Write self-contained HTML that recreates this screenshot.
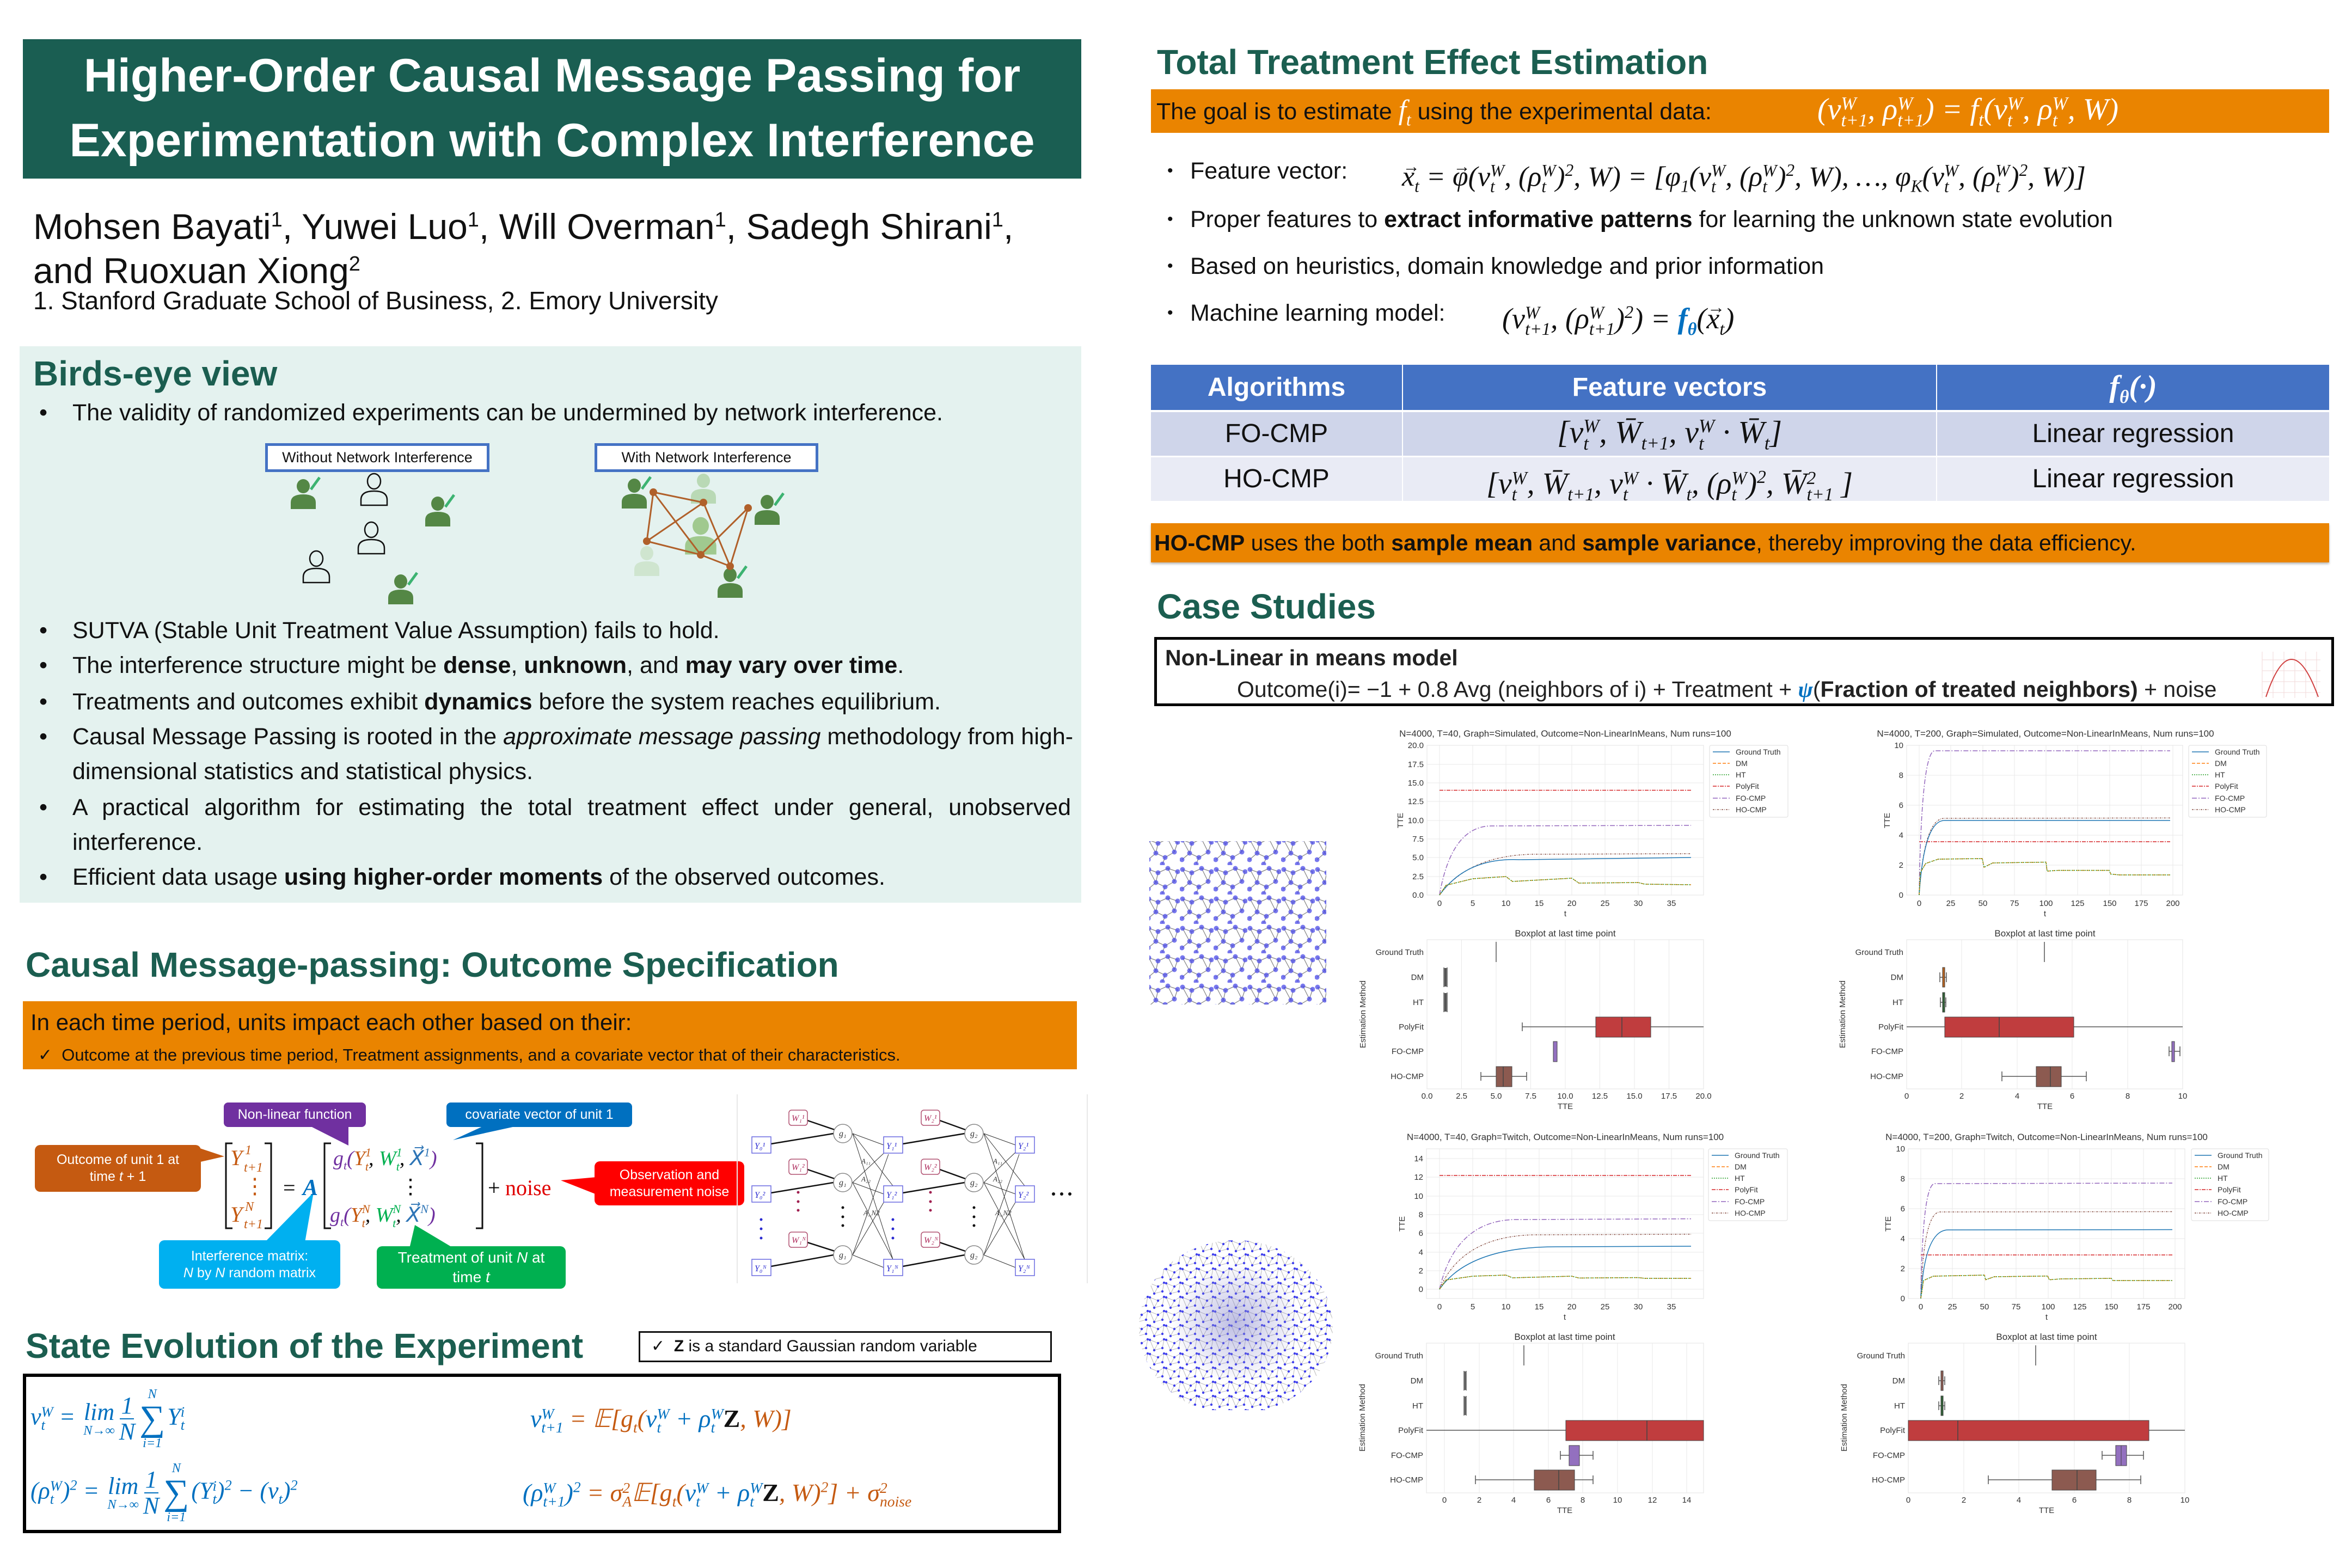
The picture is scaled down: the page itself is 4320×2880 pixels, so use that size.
<!DOCTYPE html>
<html><head><meta charset="utf-8">
<style>
body{margin:0;width:4320px;height:2880px;position:relative;background:#fff;font-family:"Liberation Sans",sans-serif;color:#111;overflow:hidden}
.a{position:absolute;white-space:nowrap}
.m{font-family:"Liberation Serif","DejaVu Serif",serif;font-style:italic}
.ss{display:inline-block;vertical-align:-0.38em;line-height:0.92;font-size:0.6em;text-align:left;font-style:italic}
.ss>b{display:block;font-weight:normal}
.h{font-weight:bold;color:#1b5e50;font-size:64px;line-height:76px}
.bl{font-size:43px;line-height:60px}
.rb{font-size:43px;line-height:60px}
.st{display:inline-flex;flex-direction:column;align-items:center;line-height:1;vertical-align:middle;margin:0 4px}
.st small{font-size:.55em}
.fr{display:inline-flex;flex-direction:column;align-items:center;line-height:1.05;vertical-align:middle;margin:0 4px}
.fr span:first-child{border-bottom:2px solid currentColor;padding:0 2px}
.cal{position:absolute;color:#fff;font-size:25px;line-height:31px;text-align:center;border-radius:10px;display:flex;align-items:center;justify-content:center}
.vec{position:relative;display:inline-block}
.vec::before{content:"→";position:absolute;top:-0.62em;left:0.05em;font-size:.6em;font-style:normal}
</style></head><body>

<!-- Title -->
<div class="a" style="left:42px;top:72px;width:1944px;height:256px;background:#1a5e52;color:#fff;font-weight:bold;font-size:86px;line-height:119px;text-align:center;padding-top:8px;box-sizing:border-box">Higher-Order Causal Message Passing for<br>Experimentation with Complex Interference</div>

<div class="a" style="left:61px;top:362px;font-size:66px;line-height:84px">Mohsen Bayati<sup style="font-size:38px">1</sup>, Yuwei Luo<sup style="font-size:38px">1</sup>, Will Overman<sup style="font-size:38px">1</sup>, Sadegh Shirani<sup style="font-size:38px">1</sup>,</div>
<div class="a" style="left:61px;top:443px;font-size:66px;line-height:84px">and Ruoxuan Xiong<sup style="font-size:38px">2</sup></div>
<div class="a" style="left:61px;top:524px;font-size:46px;line-height:56px">1. Stanford Graduate School of Business, 2. Emory University</div>

<!-- Birds-eye -->
<div class="a" style="left:36px;top:636px;width:1950px;height:1022px;background:#e4f2ef"></div>
<div class="a h" style="left:61px;top:648px">Birds-eye view</div>
<div class="a bl" style="left:72px;top:728px">•</div><div class="a bl" style="left:133px;top:728px">The validity of randomized experiments can be undermined by network interference.</div>
<div class="a bl" style="left:72px;top:1128px">•</div><div class="a bl" style="left:133px;top:1128px">SUTVA (Stable Unit Treatment Value Assumption) fails to hold.</div>
<div class="a bl" style="left:72px;top:1192px">•</div><div class="a bl" style="left:133px;top:1192px">The interference structure might be <b>dense</b>, <b>unknown</b>, and <b>may vary over time</b>.</div>
<div class="a bl" style="left:72px;top:1259px">•</div><div class="a bl" style="left:133px;top:1259px">Treatments and outcomes exhibit <b>dynamics</b> before the system reaches equilibrium.</div>
<div class="a bl" style="left:72px;top:1323px">•</div><div class="a bl" style="left:133px;top:1323px">Causal Message Passing is rooted in the <i>approximate message passing</i> methodology from high-</div>
<div class="a bl" style="left:133px;top:1387px">dimensional statistics and statistical physics.</div>
<div class="a bl" style="left:72px;top:1453px">•</div><div class="a bl" style="left:133px;top:1453px;width:1834px;white-space:normal;text-align:justify;text-align-last:justify">A practical algorithm for estimating the total treatment effect under general, unobserved</div>
<div class="a bl" style="left:133px;top:1517px">interference.</div>
<div class="a bl" style="left:72px;top:1581px">•</div><div class="a bl" style="left:133px;top:1581px">Efficient data usage <b>using higher-order moments</b> of the observed outcomes.</div>

<div class="a" style="left:487px;top:814px;width:412px;height:53px;border:5px solid #4472c4;box-sizing:border-box;background:#fff;font-size:27px;line-height:43px;text-align:center">Without Network Interference</div>
<div class="a" style="left:1092px;top:814px;width:411px;height:53px;border:5px solid #4472c4;box-sizing:border-box;background:#fff;font-size:27px;line-height:43px;text-align:center">With Network Interference</div>

<svg class="a" style="left:0;top:0" width="2000" height="1200">
<defs>
<g id="pf"><ellipse cx="0" cy="0" rx="12" ry="13"/><path d="M-23,42 L-23,30 Q-23,15 0,15 Q23,15 23,30 L23,42 Z"/></g>
<g id="po" fill="none" stroke="#111" stroke-width="2.5"><ellipse cx="0" cy="0" rx="12" ry="14"/><path d="M-24,44 L-24,34 Q-24,18 0,18 Q24,18 24,34 L24,44 Z"/></g>
<path id="sy" d="M14,6 L30,-16" stroke="#3cb371" stroke-width="5"/>
</defs>
<g fill="#548745">
<use href="#pf" x="557" y="893"/><use href="#sy" x="557" y="893"/>
<use href="#pf" x="804" y="925"/><use href="#sy" x="804" y="925"/>
<use href="#pf" x="736" y="1068"/><use href="#sy" x="736" y="1068"/>
<use href="#pf" x="1165" y="892"/><use href="#sy" x="1165" y="892"/>
<use href="#pf" x="1409" y="922"/><use href="#sy" x="1409" y="922"/>
<use href="#pf" x="1341" y="1056"/><use href="#sy" x="1341" y="1056"/>
</g>
<use href="#po" x="687" y="884"/><use href="#po" x="682" y="973"/><use href="#po" x="581" y="1026"/>
<use href="#pf" x="1292" y="883" fill="#b9d9b5"/>
<g fill="#a0c98f" transform="translate(1287,966) scale(1.25)"><use href="#pf"/></g>
<use href="#pf" x="1188" y="1016" fill="#cfe5cf"/>
<g stroke="#b0602a" stroke-width="3" fill="none">
<path d="M1200,904L1292,923M1200,904L1188,994M1200,904L1287,1019M1292,923L1188,994M1292,923L1341,1040M1374,933L1287,1019M1374,933L1341,1040M1188,994L1287,1019M1287,1019L1341,1040"/>
</g>
<g fill="#b0602a"><circle cx="1200" cy="904" r="7"/><circle cx="1292" cy="923" r="7"/><circle cx="1374" cy="933" r="7"/><circle cx="1188" cy="994" r="7"/><circle cx="1287" cy="1019" r="7"/><circle cx="1341" cy="1040" r="7"/></g>
</svg>

<!-- Causal message passing -->
<div class="a h" style="left:47px;top:1734px">Causal Message-passing: Outcome Specification</div>
<div class="a" style="left:42px;top:1839px;width:1936px;height:125px;background:#ea8400"></div>
<div class="a" style="left:56px;top:1852px;font-size:42px;line-height:52px">In each time period, units impact each other based on their:</div>
<div class="a" style="left:70px;top:1919px;font-size:31px;line-height:38px">✓ &nbsp;Outcome at the previous time period, Treatment assignments, and a covariate vector that of their characteristics.</div>

<svg class="a" style="left:0;top:1990px" width="2030" height="400" font-family="Liberation Serif" font-style="italic">
<g transform="translate(0,-1990)">
<g fill="#c55a11"><rect x="64" y="2103" width="305" height="86" rx="10"/><polygon points="355,2105 355,2137 412,2124"/></g>
<g fill="#7030a0"><rect x="411" y="2025" width="261" height="45" rx="8"/><polygon points="565,2066 640,2066 640,2104"/></g>
<g fill="#0070c0"><rect x="820" y="2025" width="341" height="45" rx="8"/><polygon points="893,2066 960,2066 832,2094"/></g>
<g fill="#ff0000"><rect x="1092" y="2133" width="275" height="81" rx="10"/><polygon points="1096,2162 1096,2194 1030,2168"/></g>
<g fill="#00b0f0"><rect x="292" y="2278" width="333" height="89" rx="10"/><polygon points="486,2282 560,2282 576,2190"/></g>
<g fill="#00b050"><rect x="692" y="2289" width="347" height="78" rx="10"/><polygon points="752,2293 834,2293 762,2250"/></g>
<g stroke="#111" stroke-width="3" fill="none" font-style="normal">
<path d="M427,2100H415V2256H427M486,2100H498V2256H486M608,2100H596V2256H608M874,2100H886V2256H874"/>
</g>
<g font-size="40" fill="#c55a11">
<text x="423" y="2140">Y</text><text x="450" y="2120" font-size="24">1</text><text x="448" y="2152" font-size="24">t+1</text>
<text x="448" y="2192" font-style="normal">⋮</text>
<text x="423" y="2244">Y</text><text x="450" y="2224" font-size="24">N</text><text x="448" y="2256" font-size="24">t+1</text>
</g>
<text x="520" y="2195" font-size="40" font-style="normal">=</text>
<text x="556" y="2195" font-size="42" fill="#0070c0" font-weight="bold">A</text>
<g font-size="38">
<text x="612" y="2140"><tspan fill="#7030a0">g</tspan><tspan fill="#7030a0" font-size="22" dy="8">t</tspan><tspan fill="#7030a0" dy="-8">(</tspan><tspan fill="#c55a11">Y</tspan><tspan fill="#c55a11" font-size="22" dy="-16">1</tspan><tspan fill="#c55a11" font-size="22" dx="-11" dy="26">t</tspan><tspan dy="-10">, </tspan><tspan fill="#00b050">W</tspan><tspan fill="#00b050" font-size="22" dy="-16">1</tspan><tspan fill="#00b050" font-size="22" dx="-11" dy="26">t</tspan><tspan dy="-10">, </tspan><tspan fill="#2e75b6">X⃗</tspan><tspan fill="#2e75b6" font-size="22" dy="-16">1</tspan><tspan fill="#7030a0" dy="16">)</tspan></text>
<text x="735" y="2192" font-style="normal">⋮</text>
<text x="606" y="2244"><tspan fill="#7030a0">g</tspan><tspan fill="#7030a0" font-size="22" dy="8">t</tspan><tspan fill="#7030a0" dy="-8">(</tspan><tspan fill="#c55a11">Y</tspan><tspan fill="#c55a11" font-size="22" dy="-16">N</tspan><tspan fill="#c55a11" font-size="22" dx="-15" dy="26">t</tspan><tspan dy="-10">, </tspan><tspan fill="#00b050">W</tspan><tspan fill="#00b050" font-size="22" dy="-16">N</tspan><tspan fill="#00b050" font-size="22" dx="-15" dy="26">t</tspan><tspan dy="-10">, </tspan><tspan fill="#2e75b6">X⃗</tspan><tspan fill="#2e75b6" font-size="22" dy="-16">N</tspan><tspan fill="#7030a0" dy="16">)</tspan></text>
</g>
<text x="896" y="2195" font-size="40" font-style="normal">+</text><text x="928" y="2195" font-size="40" font-style="normal" fill="#e00000">noise</text>
<!-- network -->
<path d="M1354,2010V2357M1997,2010V2357" stroke="#e8e8e8" stroke-width="2"/>
<g stroke="#333" stroke-width="1" fill="none">
<path d="M1566,2082L1623,2103M1566,2082L1640,2178M1566,2082L1640,2313M1566,2172L1632,2110M1566,2172L1623,2193M1566,2172L1640,2313M1566,2305L1632,2120M1566,2305L1640,2180M1566,2305L1623,2328"/>
<path d="M1807,2082L1865,2103M1807,2082L1882,2178M1807,2082L1882,2313M1807,2172L1872,2110M1807,2172L1865,2193M1807,2172L1882,2313M1807,2305L1872,2120M1807,2305L1882,2180M1807,2305L1865,2328"/>
</g>
<g stroke="#111" stroke-width="2.5" fill="none">
<path d="M1416,2101L1531,2082M1416,2191L1531,2172M1416,2326L1531,2305M1483,2058L1533,2075M1483,2148L1533,2165M1483,2282L1533,2298M1658,2101L1772,2082M1658,2191L1772,2172M1658,2326L1772,2305M1726,2058L1773,2075M1726,2148L1773,2165M1726,2282L1773,2298"/>
</g>
<g fill="#fff" stroke="#888" stroke-width="1.5"><circle cx="1548" cy="2082" r="17"/><circle cx="1548" cy="2172" r="17"/><circle cx="1548" cy="2305" r="17"/><circle cx="1789" cy="2082" r="17"/><circle cx="1789" cy="2172" r="17"/><circle cx="1789" cy="2305" r="17"/></g>
<g fill="#fff" stroke="#b05070" stroke-width="1.5"><rect x="1449" y="2039" width="34" height="28" rx="5"/><rect x="1449" y="2129" width="34" height="28" rx="5"/><rect x="1449" y="2263" width="34" height="28" rx="5"/><rect x="1692" y="2039" width="34" height="28" rx="5"/><rect x="1692" y="2129" width="34" height="28" rx="5"/><rect x="1692" y="2263" width="34" height="28" rx="5"/></g>
<g fill="#fff" stroke="#6a6ae0" stroke-width="1.5"><rect x="1381" y="2088" width="35" height="30"/><rect x="1381" y="2178" width="35" height="30"/><rect x="1381" y="2313" width="35" height="30"/><rect x="1623" y="2088" width="35" height="30"/><rect x="1623" y="2178" width="35" height="30"/><rect x="1623" y="2313" width="35" height="30"/><rect x="1865" y="2088" width="35" height="30"/><rect x="1865" y="2178" width="35" height="30"/><rect x="1865" y="2313" width="35" height="30"/></g>
<g font-size="16" fill="#2a2ad0">
<text x="1386" y="2110">Y₀¹</text><text x="1386" y="2200">Y₀²</text><text x="1386" y="2335">Y₀ᴺ</text>
<text x="1628" y="2110">Y₁¹</text><text x="1628" y="2200">Y₁²</text><text x="1628" y="2335">Y₁ᴺ</text>
<text x="1870" y="2110">Y₂¹</text><text x="1870" y="2200">Y₂²</text><text x="1870" y="2335">Y₂ᴺ</text>
</g>
<g font-size="16" fill="#b03060">
<text x="1454" y="2059">W₁¹</text><text x="1454" y="2149">W₁²</text><text x="1454" y="2283">W₁ᴺ</text>
<text x="1697" y="2059">W₂¹</text><text x="1697" y="2149">W₂²</text><text x="1697" y="2283">W₂ᴺ</text>
</g>
<g font-size="16" fill="#333"><text x="1541" y="2087">g₁</text><text x="1541" y="2177">g₁</text><text x="1541" y="2310">g₁</text><text x="1782" y="2087">g₂</text><text x="1782" y="2177">g₂</text><text x="1782" y="2310">g₂</text>
<text x="1582" y="2137" font-size="13">A₁₁</text><text x="1582" y="2170" font-size="13">A₂₂</text><text x="1586" y="2232" font-size="13">A_N2</text>
<text x="1824" y="2137" font-size="13">A₁₁</text><text x="1824" y="2170" font-size="13">A₂₂</text><text x="1828" y="2232" font-size="13">A_N2</text></g>
<g fill="#2a2ad0"><circle cx="1398" cy="2240" r="2.5"/><circle cx="1398" cy="2257" r="2.5"/><circle cx="1398" cy="2274" r="2.5"/><circle cx="1640" cy="2240" r="2.5"/><circle cx="1640" cy="2257" r="2.5"/><circle cx="1640" cy="2274" r="2.5"/></g>
<g fill="#a02050"><circle cx="1466" cy="2190" r="2.5"/><circle cx="1466" cy="2207" r="2.5"/><circle cx="1466" cy="2223" r="2.5"/><circle cx="1709" cy="2190" r="2.5"/><circle cx="1709" cy="2207" r="2.5"/><circle cx="1709" cy="2223" r="2.5"/></g>
<g fill="#111"><circle cx="1548" cy="2218" r="2.5"/><circle cx="1548" cy="2235" r="2.5"/><circle cx="1548" cy="2251" r="2.5"/><circle cx="1789" cy="2218" r="2.5"/><circle cx="1789" cy="2235" r="2.5"/><circle cx="1789" cy="2251" r="2.5"/><circle cx="1935" cy="2193" r="3"/><circle cx="1950" cy="2193" r="3"/><circle cx="1965" cy="2193" r="3"/></g>
</g>
</svg>
<div class="cal" style="left:64px;top:2103px;width:305px;height:86px"><span>Outcome of unit 1 at<br>time <i>t</i> + 1</span></div>
<div class="cal" style="left:411px;top:2025px;width:261px;height:45px"><span>Non-linear function</span></div>
<div class="cal" style="left:820px;top:2025px;width:341px;height:45px"><span>covariate vector of unit 1</span></div>
<div class="cal" style="left:1092px;top:2133px;width:275px;height:81px"><span>Observation and<br>measurement noise</span></div>
<div class="cal" style="left:292px;top:2278px;width:333px;height:89px"><span>Interference matrix:<br><i>N</i> by <i>N</i> random matrix</span></div>
<div class="cal" style="left:692px;top:2289px;width:347px;height:78px;font-size:28px;line-height:36px"><span>Treatment of unit <i>N</i> at<br>time <i>t</i></span></div>

<!-- State evolution -->
<div class="a h" style="left:47px;top:2434px">State Evolution of the Experiment</div>
<div class="a" style="left:1173px;top:2445px;width:759px;height:57px;border:3px solid #111;box-sizing:border-box;font-size:30px;line-height:50px;padding-left:20px">✓ &nbsp;<b>Z</b> is a standard Gaussian random variable</div>
<div class="a" style="left:42px;top:2523px;width:1907px;height:293px;border:6px solid #000;box-sizing:border-box"></div>

<div class="a m" style="left:56px;top:2546px;height:120px;display:flex;align-items:center;color:#0070c0;font-size:44px"><span>ν<span class="ss"><b>W</b><b>t</b></span>&nbsp;= <span class="st"><span>lim</span><small>N→∞</small></span><span class="fr"><span>1</span><span>N</span></span><span class="st"><small>N</small><span style="font-size:1.5em;font-style:normal">∑</span><small>i=1</small></span>Y<span class="ss"><b>i</b><b>t</b></span></span></div>
<div class="a m" style="left:974px;top:2576px;height:60px;display:flex;align-items:center;color:#c55a11;font-size:46px"><span><span style="color:#0070c0">ν<span class="ss"><b>W</b><b>t+1</b></span></span>&nbsp;= 𝔼[g<span class="ss"><b>&nbsp;</b><b>t</b></span>(<span style="color:#0070c0">ν<span class="ss"><b>W</b><b>t</b></span>&nbsp;+ ρ<span class="ss"><b>W</b><b>t</b></span></span><b style="color:#111;font-style:normal">Z</b>, W)]</span></div>

<div class="a m" style="left:56px;top:2682px;height:120px;display:flex;align-items:center;color:#0070c0;font-size:44px"><span>(ρ<span class="ss"><b>W</b><b>t</b></span>)<sup style="font-size:.6em">2</sup>&nbsp;= <span class="st"><span>lim</span><small>N→∞</small></span><span class="fr"><span>1</span><span>N</span></span><span class="st"><small>N</small><span style="font-size:1.5em;font-style:normal">∑</span><small>i=1</small></span>(Y<span class="ss"><b>i</b><b>t</b></span>)<sup style="font-size:.6em">2</sup>&nbsp;− (ν<sub style="font-size:.6em">t</sub>)<sup style="font-size:.6em">2</sup></span></div>
<div class="a m" style="left:960px;top:2712px;height:60px;display:flex;align-items:center;color:#c55a11;font-size:46px"><span><span style="color:#0070c0">(ρ<span class="ss"><b>W</b><b>t+1</b></span>)<sup style="font-size:.6em">2</sup></span>&nbsp;= σ<span class="ss"><b>2</b><b>A</b></span>𝔼[g<span class="ss"><b>&nbsp;</b><b>t</b></span>(<span style="color:#0070c0">ν<span class="ss"><b>W</b><b>t</b></span>&nbsp;+ ρ<span class="ss"><b>W</b><b>t</b></span></span><b style="color:#111;font-style:normal">Z</b>, W)<sup style="font-size:.6em">2</sup>] + σ<span class="ss"><b>2</b><b>noise</b></span></span></div>

<!-- Right column -->
<div class="a h" style="left:2125px;top:76px">Total Treatment Effect Estimation</div>
<div class="a" style="left:2114px;top:164px;width:2164px;height:80px;background:#ea8400"></div>
<div class="a" style="left:2124px;top:176px;font-size:43px;line-height:54px">The goal is to estimate <span class="m" style="color:#fff;font-size:52px">f<sub style="font-size:.6em">t</sub></span> using the experimental data:</div>
<div class="a m" style="left:3338px;top:166px;font-size:56px;line-height:70px;color:#fff">(ν<span class="ss"><b>W</b><b>t+1</b></span>, ρ<span class="ss"><b>W</b><b>t+1</b></span>) = f<sub style="font-size:.6em">t</sub>(ν<span class="ss"><b>W</b><b>t</b></span>, ρ<span class="ss"><b>W</b><b>t</b></span>, W)</div>

<div class="a rb" style="left:2144px;top:284px;font-size:30px">•</div><div class="a rb" style="left:2186px;top:284px">Feature vector:</div>
<div class="a m" style="left:2575px;top:278px;font-size:52px;line-height:70px"><span class="vec">x</span><sub style="font-size:.6em">t</sub> = <span class="vec">φ</span>(ν<span class="ss"><b>W</b><b>t</b></span>, (ρ<span class="ss"><b>W</b><b>t</b></span>)<sup style="font-size:.6em">2</sup>, W) = [φ<sub style="font-size:.6em">1</sub>(ν<span class="ss"><b>W</b><b>t</b></span>, (ρ<span class="ss"><b>W</b><b>t</b></span>)<sup style="font-size:.6em">2</sup>, W), …, φ<sub style="font-size:.6em">K</sub>(ν<span class="ss"><b>W</b><b>t</b></span>, (ρ<span class="ss"><b>W</b><b>t</b></span>)<sup style="font-size:.6em">2</sup>, W)]</div>
<div class="a rb" style="left:2144px;top:373px;font-size:30px">•</div><div class="a rb" style="left:2186px;top:373px">Proper features to <b>extract informative patterns</b> for learning the unknown state evolution</div>
<div class="a rb" style="left:2144px;top:459px;font-size:30px">•</div><div class="a rb" style="left:2186px;top:459px">Based on heuristics, domain knowledge and prior information</div>
<div class="a rb" style="left:2144px;top:545px;font-size:30px">•</div><div class="a rb" style="left:2186px;top:545px">Machine learning model:</div>
<div class="a m" style="left:2759px;top:538px;font-size:54px;line-height:72px">(ν<span class="ss"><b>W</b><b>t+1</b></span>, (ρ<span class="ss"><b>W</b><b>t+1</b></span>)<sup style="font-size:.6em">2</sup>) = <span style="color:#0070c0;font-weight:bold">f<sub style="font-size:.6em">θ</sub></span>(<span class="vec">x</span><sub style="font-size:.6em">t</sub>)</div>

<!-- table -->
<div class="a" style="left:2114px;top:670px;width:461px;height:83px;background:#4472c4"></div>
<div class="a" style="left:2577px;top:670px;width:979px;height:83px;background:#4472c4"></div>
<div class="a" style="left:3558px;top:670px;width:720px;height:83px;background:#4472c4"></div>
<div class="a" style="left:2114px;top:757px;width:461px;height:80px;background:#cfd5ea"></div>
<div class="a" style="left:2577px;top:757px;width:979px;height:80px;background:#cfd5ea"></div>
<div class="a" style="left:3558px;top:757px;width:720px;height:80px;background:#cfd5ea"></div>
<div class="a" style="left:2114px;top:840px;width:461px;height:80px;background:#e9ebf5"></div>
<div class="a" style="left:2577px;top:840px;width:979px;height:80px;background:#e9ebf5"></div>
<div class="a" style="left:3558px;top:840px;width:720px;height:80px;background:#e9ebf5"></div>
<div class="a" style="left:2114px;top:682px;width:461px;text-align:center;color:#fff;font-weight:bold;font-size:48px;line-height:60px">Algorithms</div>
<div class="a" style="left:2577px;top:682px;width:979px;text-align:center;color:#fff;font-weight:bold;font-size:48px;line-height:60px">Feature vectors</div>
<div class="a m" style="left:3558px;top:678px;width:720px;text-align:center;color:#fff;font-weight:bold;font-size:56px;line-height:64px">f<sub style="font-size:.6em">θ</sub>(·)</div>
<div class="a" style="left:2114px;top:767px;width:461px;text-align:center;font-size:48px;line-height:60px">FO-CMP</div>
<div class="a" style="left:2114px;top:850px;width:461px;text-align:center;font-size:48px;line-height:60px">HO-CMP</div>
<div class="a" style="left:3558px;top:767px;width:720px;text-align:center;font-size:48px;line-height:60px">Linear regression</div>
<div class="a" style="left:3558px;top:850px;width:720px;text-align:center;font-size:48px;line-height:60px">Linear regression</div>
<div class="a m" style="left:2577px;top:758px;width:979px;text-align:center;font-size:58px;line-height:72px">[ν<span class="ss"><b>W</b><b>t</b></span>, W̄<sub style="font-size:.6em">t+1</sub>, ν<span class="ss"><b>W</b><b>t</b></span> · W̄<sub style="font-size:.6em">t</sub>]</div>
<div class="a m" style="left:2577px;top:841px;width:979px;text-align:center;font-size:56px;line-height:72px">[ν<span class="ss"><b>W</b><b>t</b></span>, W̄<sub style="font-size:.6em">t+1</sub>, ν<span class="ss"><b>W</b><b>t</b></span> · W̄<sub style="font-size:.6em">t</sub>, (ρ<span class="ss"><b>W</b><b>t</b></span>)<sup style="font-size:.6em">2</sup>, W̄<span class="ss"><b>2</b><b>t+1</b></span> ]</div>

<div class="a" style="left:2114px;top:961px;width:2164px;height:72px;background:#ea8400;box-shadow:0 3px 4px #bbb"></div>
<div class="a" style="left:2120px;top:971px;font-size:41px;line-height:52px"><b>HO-CMP</b> uses the both <b>sample mean</b> and <b>sample variance</b>, thereby improving the data efficiency.</div>

<div class="a h" style="left:2125px;top:1076px">Case Studies</div>
<div class="a" style="left:2120px;top:1170px;width:2167px;height:127px;border:5px solid #000;box-sizing:border-box"></div>
<div class="a" style="left:2140px;top:1183px;font-size:41px;line-height:50px;font-weight:bold;color:#222">Non-Linear in means model</div>
<div class="a" style="left:2272px;top:1241px;font-size:41px;line-height:50px;color:#222">Outcome(i)= −1 + 0.8 Avg (neighbors of i) + Treatment + <span class="m" style="color:#0070c0;font-weight:bold">ψ</span>(<b>Fraction of treated neighbors)</b> + noise</div>
<svg class="a" style="left:4150px;top:1192px" width="118" height="94">
<path d="M5,5V90M25,5V90M45,5V90M65,5V90M85,5V90M105,5V90M5,20H112M5,40H112M5,60H112M5,80H112" stroke="#f0dada" stroke-width="1"/>
<path d="M12,88 Q58,-50 108,88" stroke="#d04040" fill="none" stroke-width="2"/>
</svg>

<!-- networks -->
<svg class="a" style="left:2105px;top:1535px" width="350" height="320">
<defs><pattern id="net" width="62" height="54" patternUnits="userSpaceOnUse">
<g stroke="#888" stroke-width="1.3" fill="none"><path d="M5,8L22,14L40,6L58,12M22,14L18,32L35,40L52,30L58,12M18,32L4,44M35,40L30,52M52,30L40,6M5,8L18,32"/></g>
<g fill="#4a4ae8" fill-opacity="0.75"><circle cx="5" cy="8" r="4.5"/><circle cx="22" cy="14" r="4.5"/><circle cx="40" cy="6" r="4.5"/><circle cx="58" cy="12" r="4.5"/><circle cx="18" cy="32" r="4.5"/><circle cx="35" cy="40" r="4.5"/><circle cx="52" cy="30" r="4.5"/><circle cx="4" cy="44" r="4.5"/><circle cx="30" cy="52" r="4.5"/></g>
</pattern></defs>
<rect x="6" y="10" width="325" height="300" fill="url(#net)"/>
</svg>
<svg class="a" style="left:2080px;top:2250px" width="380" height="340">
<defs><pattern id="net2" width="30" height="26" patternUnits="userSpaceOnUse">
<g stroke="#bbb" stroke-width="1" fill="none"><path d="M2,3L17,9L28,2M17,9L10,22L25,18L28,2M2,3L10,22"/></g>
<g fill="#4040ee"><circle cx="2" cy="3" r="2.2"/><circle cx="17" cy="9" r="2.2"/><circle cx="28" cy="2" r="2.2"/><circle cx="10" cy="22" r="2.2"/><circle cx="25" cy="18" r="2.2"/></g>
</pattern>
<radialGradient id="rg"><stop offset="0" stop-color="#8888cc" stop-opacity=".55"/><stop offset="1" stop-color="#8888cc" stop-opacity="0"/></radialGradient></defs>
<ellipse cx="190" cy="188" rx="178" ry="160" fill="url(#net2)"/>
<ellipse cx="190" cy="180" rx="120" ry="110" fill="url(#rg)"/>
</svg>

<!-- Panel TL -->
<svg class="a" style="left:2450px;top:1320px" width="900" height="780" font-family="Liberation Sans" font-size="15" fill="#333">
<text x="425" y="33" text-anchor="middle" font-size="17">N=4000, T=40, Graph=Simulated, Outcome=Non-LinearInMeans, Num runs=100</text>
<rect x="171" y="49" width="508" height="275" fill="#fff" stroke="#e3e3e3"/>
<path d="M194 49V324M255 49V324M316 49V324M377 49V324M437 49V324M498 49V324M559 49V324M620 49V324M171 290H679M171 255H679M171 221H679M171 187H679M171 152H679M171 118H679M171 84H679" stroke="#e8e8e8" fill="none"/>
<g text-anchor="end"><text x="165" y="329">0.0</text><text x="165" y="295">2.5</text><text x="165" y="260">5.0</text><text x="165" y="226">7.5</text><text x="165" y="192">10.0</text><text x="165" y="157">12.5</text><text x="165" y="123">15.0</text><text x="165" y="89">17.5</text><text x="165" y="54">20.0</text></g>
<g text-anchor="middle"><text x="194" y="344">0</text><text x="255" y="344">5</text><text x="316" y="344">10</text><text x="377" y="344">15</text><text x="437" y="344">20</text><text x="498" y="344">25</text><text x="559" y="344">30</text><text x="620" y="344">35</text><text x="425" y="363">t</text></g>
<text transform="translate(127,187) rotate(-90)" text-anchor="middle">TTE</text>
<g fill="none" stroke-width="1.5">
<path d="M194,131.5H656" stroke="#d62728" stroke-dasharray="7,2,2,2"/>
<path d="M194,324 Q216,196 291,197 L656,196" stroke="#9467bd" stroke-dasharray="9,3,2,3"/>
<path d="M194,324 Q249,248 377,249 L656,248" stroke="#8c564b" stroke-dasharray="3,2,1,2"/>
<path d="M194,324 Q243,255 340,259 L656,255" stroke="#1f77b4"/>
<path d="M194,324 L206,306 L255,294 L316,290 L328,299 L437,293 L450,302 L559,301 L571,304 L656,305" stroke="#ff7f0e" stroke-dasharray="6,3"/>
<path d="M194,324 L206,306 L255,294 L316,290 L328,299 L437,293 L450,302 L559,301 L571,304 L656,305" stroke="#2ca02c" stroke-dasharray="2,2"/>
</g>
<rect x="690" y="49" width="144" height="132" fill="#fff" stroke="#ddd" rx="3"/>
<g stroke-width="1.5"><path d="M696,61H727" stroke="#1f77b4"/><path d="M696,82H727" stroke="#ff7f0e" stroke-dasharray="6,3"/><path d="M696,103H727" stroke="#2ca02c" stroke-dasharray="2,2"/><path d="M696,124H727" stroke="#d62728" stroke-dasharray="7,2,2,2"/><path d="M696,146H727" stroke="#9467bd" stroke-dasharray="9,3,2,3"/><path d="M696,167H727" stroke="#8c564b" stroke-dasharray="3,2,1,2"/></g>
<g font-size="14"><text x="738" y="66">Ground Truth</text><text x="738" y="87">DM</text><text x="738" y="108">HT</text><text x="738" y="129">PolyFit</text><text x="738" y="151">FO-CMP</text><text x="738" y="172">HO-CMP</text></g>
<text x="425" y="400" text-anchor="middle" font-size="17">Boxplot at last time point</text>
<rect x="171" y="406" width="508" height="274" fill="#fff" stroke="#e3e3e3"/>
<path d="M234.5 406V680M298 406V680M361.5 406V680M425 406V680M488.5 406V680M552 406V680M615.5 406V680" stroke="#e8e8e8"/>
<g text-anchor="end"><text x="165" y="434">Ground Truth</text><text x="165" y="480">DM</text><text x="165" y="526">HT</text><text x="165" y="571">PolyFit</text><text x="165" y="616">FO-CMP</text><text x="165" y="662">HO-CMP</text></g>
<text transform="translate(58,543) rotate(-90)" text-anchor="middle">Estimation Method</text>
<g text-anchor="middle"><text x="171" y="698">0.0</text><text x="234.5" y="698">2.5</text><text x="298" y="698">5.0</text><text x="361.5" y="698">7.5</text><text x="425" y="698">10.0</text><text x="488.5" y="698">12.5</text><text x="552" y="698">15.0</text><text x="615.5" y="698">17.5</text><text x="679" y="698">20.0</text><text x="425" y="717">TTE</text></g>
<g stroke="#555" stroke-width="1.5"><path d="M298,410V447M202,457V493M208,457V493M202,503V539M208,503V539M346,566H481M582,566H679M346,558V574M400,566H403M410,566H415M270,657H298M327,657H354M270,649V665M354,649V665"/></g>
<rect x="203" y="458" width="4" height="34" fill="#555"/><rect x="203" y="504" width="4" height="34" fill="#555"/>
<rect x="481" y="548" width="101" height="37" fill="#c03d3e" stroke="#444"/><path d="M529,548V585" stroke="#444" stroke-width="1.5"/>
<rect x="403" y="593" width="7" height="37" fill="#9370bf" stroke="#444"/>
<rect x="298" y="639" width="29" height="37" fill="#8c5a50" stroke="#444"/><path d="M311,639V676" stroke="#444" stroke-width="1.5"/>
</svg>

<!-- Panel TR -->
<svg class="a" style="left:3339px;top:1320px" width="900" height="780" font-family="Liberation Sans" font-size="15" fill="#333">
<text x="418" y="33" text-anchor="middle" font-size="17">N=4000, T=200, Graph=Simulated, Outcome=Non-LinearInMeans, Num runs=100</text>
<rect x="163" y="49" width="507" height="275" fill="#fff" stroke="#e3e3e3"/>
<path d="M186 49V324M244 49V324M303 49V324M361 49V324M419 49V324M477 49V324M536 49V324M594 49V324M652 49V324M163 269H670M163 214H670M163 159H670M163 104H670" stroke="#e8e8e8" fill="none"/>
<g text-anchor="end"><text x="157" y="329">0</text><text x="157" y="274">2</text><text x="157" y="219">4</text><text x="157" y="164">6</text><text x="157" y="109">8</text><text x="157" y="54">10</text></g>
<g text-anchor="middle"><text x="186" y="344">0</text><text x="244" y="344">25</text><text x="303" y="344">50</text><text x="361" y="344">75</text><text x="419" y="344">100</text><text x="477" y="344">125</text><text x="536" y="344">150</text><text x="594" y="344">175</text><text x="652" y="344">200</text><text x="417" y="363">t</text></g>
<text transform="translate(132,187) rotate(-90)" text-anchor="middle">TTE</text>
<g fill="none" stroke-width="1.5">
<path d="M186,226H647" stroke="#d62728" stroke-dasharray="7,2,2,2"/>
<path d="M186,324 Q190,58 215,59 L647,59" stroke="#9467bd" stroke-dasharray="9,3,2,3"/>
<path d="M186,324 Q195,182 233,183 L647,182.4" stroke="#8c564b" stroke-dasharray="3,2,1,2"/>
<path d="M186,324 Q195,186 233,187 L647,187" stroke="#1f77b4"/>
<path d="M186,324 L188,283 L198,266 L221,258 L302,257 L305,273 L321,265 L419,263.5 L421,280 L442,278.6 L535,278.6 L538,285.5 L554,287 L647,287" stroke="#ff7f0e" stroke-dasharray="6,3"/>
<path d="M186,324 L188,283 L198,266 L221,258 L302,257 L305,273 L321,265 L419,263.5 L421,280 L442,278.6 L535,278.6 L538,285.5 L554,287 L647,287" stroke="#2ca02c" stroke-dasharray="2,2"/>
</g>
<rect x="681" y="49" width="143" height="132" fill="#fff" stroke="#ddd" rx="3"/>
<g stroke-width="1.5"><path d="M687,61H718" stroke="#1f77b4"/><path d="M687,82H718" stroke="#ff7f0e" stroke-dasharray="6,3"/><path d="M687,103H718" stroke="#2ca02c" stroke-dasharray="2,2"/><path d="M687,124H718" stroke="#d62728" stroke-dasharray="7,2,2,2"/><path d="M687,146H718" stroke="#9467bd" stroke-dasharray="9,3,2,3"/><path d="M687,167H718" stroke="#8c564b" stroke-dasharray="3,2,1,2"/></g>
<g font-size="14"><text x="729" y="66">Ground Truth</text><text x="729" y="87">DM</text><text x="729" y="108">HT</text><text x="729" y="129">PolyFit</text><text x="729" y="151">FO-CMP</text><text x="729" y="172">HO-CMP</text></g>
<text x="417" y="400" text-anchor="middle" font-size="17">Boxplot at last time point</text>
<rect x="163" y="406" width="507" height="274" fill="#fff" stroke="#e3e3e3"/>
<path d="M264 406V680M366 406V680M467 406V680M569 406V680" stroke="#e8e8e8"/>
<g text-anchor="end"><text x="157" y="434">Ground Truth</text><text x="157" y="480">DM</text><text x="157" y="526">HT</text><text x="157" y="571">PolyFit</text><text x="157" y="616">FO-CMP</text><text x="157" y="662">HO-CMP</text></g>
<text transform="translate(50,543) rotate(-90)" text-anchor="middle">Estimation Method</text>
<g text-anchor="middle"><text x="163" y="698">0</text><text x="264" y="698">2</text><text x="366" y="698">4</text><text x="467" y="698">6</text><text x="569" y="698">8</text><text x="670" y="698">10</text><text x="417" y="717">TTE</text></g>
<g stroke="#555" stroke-width="1.5"><path d="M416,410V447M224,475H236M224,466V484M236,466V484M225,521H235M225,512V530M235,512V530M163,566H233M470,566H670M645,611H665M645,602V620M665,602V620M338,657H401M447,657H493M338,648V666M493,648V666"/></g>
<rect x="229" y="457" width="4" height="36" fill="#b4611f" stroke="#444"/><rect x="229" y="503" width="4" height="36" fill="#2f5f35" stroke="#444"/>
<rect x="233" y="548" width="237" height="37" fill="#c03d3e" stroke="#444"/><path d="M333,548V585" stroke="#444" stroke-width="1.5"/>
<rect x="650" y="593" width="5" height="37" fill="#9370bf" stroke="#444"/>
<rect x="401" y="639" width="46" height="37" fill="#8c5a50" stroke="#444"/><path d="M427,639V676" stroke="#444" stroke-width="1.5"/>
</svg>

<!-- Panel BL -->
<svg class="a" style="left:2450px;top:2067px" width="900" height="780" font-family="Liberation Sans" font-size="15" fill="#333">
<text x="425" y="27" text-anchor="middle" font-size="17">N=4000, T=40, Graph=Twitch, Outcome=Non-LinearInMeans, Num runs=100</text>
<rect x="170" y="43" width="509" height="275" fill="#fff" stroke="#e3e3e3"/>
<path d="M194 43V318M255 43V318M316 43V318M377 43V318M437 43V318M498 43V318M559 43V318M620 43V318M170 301H679M170 267H679M170 233H679M170 198H679M170 164H679M170 130H679M170 95H679M170 61H679" stroke="#e8e8e8" fill="none"/>
<g text-anchor="end"><text x="164" y="306">0</text><text x="164" y="272">2</text><text x="164" y="238">4</text><text x="164" y="203">6</text><text x="164" y="169">8</text><text x="164" y="135">10</text><text x="164" y="100">12</text><text x="164" y="66">14</text></g>
<g text-anchor="middle"><text x="194" y="338">0</text><text x="255" y="338">5</text><text x="316" y="338">10</text><text x="377" y="338">15</text><text x="437" y="338">20</text><text x="498" y="338">25</text><text x="559" y="338">30</text><text x="620" y="338">35</text><text x="424" y="357">t</text></g>
<text transform="translate(130,181) rotate(-90)" text-anchor="middle">TTE</text>
<g fill="none" stroke-width="1.5">
<path d="M194,92H656" stroke="#d62728" stroke-dasharray="7,2,2,2"/>
<path d="M194,301 Q224,171 340,173 L656,171.6" stroke="#9467bd" stroke-dasharray="9,3,2,3"/>
<path d="M194,301 Q237,200 377,201 L656,200" stroke="#8c564b" stroke-dasharray="3,2,1,2"/>
<path d="M194,301 Q249,222 413,223 L656,222" stroke="#1f77b4"/>
<path d="M194,301 L206,284 L255,277 L316,275 L328,280 L437,277 L450,280.4 L559,279.6 L571,281 L656,281" stroke="#ff7f0e" stroke-dasharray="6,3"/>
<path d="M194,301 L206,284 L255,277 L316,275 L328,280 L437,277 L450,280.4 L559,279.6 L571,281 L656,281" stroke="#2ca02c" stroke-dasharray="2,2"/>
</g>
<rect x="688" y="43" width="145" height="132" fill="#fff" stroke="#ddd" rx="3"/>
<g stroke-width="1.5"><path d="M694,55H725" stroke="#1f77b4"/><path d="M694,76H725" stroke="#ff7f0e" stroke-dasharray="6,3"/><path d="M694,97H725" stroke="#2ca02c" stroke-dasharray="2,2"/><path d="M694,118H725" stroke="#d62728" stroke-dasharray="7,2,2,2"/><path d="M694,140H725" stroke="#9467bd" stroke-dasharray="9,3,2,3"/><path d="M694,161H725" stroke="#8c564b" stroke-dasharray="3,2,1,2"/></g>
<g font-size="14"><text x="736" y="60">Ground Truth</text><text x="736" y="81">DM</text><text x="736" y="102">HT</text><text x="736" y="123">PolyFit</text><text x="736" y="145">FO-CMP</text><text x="736" y="166">HO-CMP</text></g>
<text x="424" y="394" text-anchor="middle" font-size="17">Boxplot at last time point</text>
<rect x="170" y="400" width="509" height="275" fill="#fff" stroke="#e3e3e3"/>
<path d="M203 400V675M267 400V675M330 400V675M394 400V675M457 400V675M521 400V675M585 400V675M648 400V675" stroke="#e8e8e8"/>
<g text-anchor="end"><text x="164" y="428">Ground Truth</text><text x="164" y="474">DM</text><text x="164" y="520">HT</text><text x="164" y="565">PolyFit</text><text x="164" y="611">FO-CMP</text><text x="164" y="656">HO-CMP</text></g>
<text transform="translate(57,537) rotate(-90)" text-anchor="middle">Estimation Method</text>
<g text-anchor="middle"><text x="203" y="693">0</text><text x="267" y="693">2</text><text x="330" y="693">4</text><text x="394" y="693">6</text><text x="457" y="693">8</text><text x="521" y="693">10</text><text x="585" y="693">12</text><text x="648" y="693">14</text><text x="424" y="712">TTE</text></g>
<g stroke="#555" stroke-width="1.5"><path d="M349,404V441M239,451V487M243,451V487M239,497V533M243,497V533M170,560H426M416,606H432M451,606H476M416,598V614M476,598V614M260,651H368M442,651H476M260,643V659M476,643V659"/></g>
<rect x="240" y="452" width="2" height="34" fill="#555"/><rect x="240" y="498" width="2" height="34" fill="#555"/>
<rect x="426" y="542" width="253" height="37" fill="#c03d3e" stroke="#444"/><path d="M575,542V579" stroke="#444" stroke-width="1.5"/>
<rect x="432" y="588" width="19" height="37" fill="#9370bf" stroke="#444"/>
<rect x="368" y="633" width="74" height="37" fill="#8c5a50" stroke="#444"/><path d="M413,633V670" stroke="#444" stroke-width="1.5"/>
</svg>

<!-- Panel BR -->
<svg class="a" style="left:3339px;top:2067px" width="900" height="780" font-family="Liberation Sans" font-size="15" fill="#333">
<text x="420" y="27" text-anchor="middle" font-size="17">N=4000, T=200, Graph=Twitch, Outcome=Non-LinearInMeans, Num runs=100</text>
<rect x="166" y="43" width="508" height="275" fill="#fff" stroke="#e3e3e3"/>
<path d="M189 43V318M247 43V318M306 43V318M364 43V318M423 43V318M481 43V318M539 43V318M598 43V318M656 43V318M166 263H674M166 208H674M166 153H674M166 98H674" stroke="#e8e8e8" fill="none"/>
<g text-anchor="end"><text x="160" y="323">0</text><text x="160" y="268">2</text><text x="160" y="213">4</text><text x="160" y="158">6</text><text x="160" y="103">8</text><text x="160" y="48">10</text></g>
<g text-anchor="middle"><text x="189" y="338">0</text><text x="247" y="338">25</text><text x="306" y="338">50</text><text x="364" y="338">75</text><text x="423" y="338">100</text><text x="481" y="338">125</text><text x="539" y="338">150</text><text x="598" y="338">175</text><text x="656" y="338">200</text><text x="420" y="357">t</text></g>
<text transform="translate(134,181) rotate(-90)" text-anchor="middle">TTE</text>
<g fill="none" stroke-width="1.5">
<path d="M189,238H651" stroke="#d62728" stroke-dasharray="7,2,2,2"/>
<path d="M189,318 Q192,106 215,107 L651,106" stroke="#9467bd" stroke-dasharray="9,3,2,3"/>
<path d="M189,318 Q194,158 225,159 L651,158.5" stroke="#8c564b" stroke-dasharray="3,2,1,2"/>
<path d="M189,318 Q196,191 240,192 L651,191.5" stroke="#1f77b4"/>
<path d="M189,318 L194,285 L212,277 L306,275 L308,283.6 L324,278 L422,276.7 L425,283.6 L446,282 L539,281 L542,285 L651,285" stroke="#ff7f0e" stroke-dasharray="6,3"/>
<path d="M189,318 L194,285 L212,277 L306,275 L308,283.6 L324,278 L422,276.7 L425,283.6 L446,282 L539,281 L542,285 L651,285" stroke="#2ca02c" stroke-dasharray="2,2"/>
</g>
<rect x="686" y="43" width="142" height="132" fill="#fff" stroke="#ddd" rx="3"/>
<g stroke-width="1.5"><path d="M692,55H723" stroke="#1f77b4"/><path d="M692,76H723" stroke="#ff7f0e" stroke-dasharray="6,3"/><path d="M692,97H723" stroke="#2ca02c" stroke-dasharray="2,2"/><path d="M692,118H723" stroke="#d62728" stroke-dasharray="7,2,2,2"/><path d="M692,140H723" stroke="#9467bd" stroke-dasharray="9,3,2,3"/><path d="M692,161H723" stroke="#8c564b" stroke-dasharray="3,2,1,2"/></g>
<g font-size="14"><text x="734" y="60">Ground Truth</text><text x="734" y="81">DM</text><text x="734" y="102">HT</text><text x="734" y="123">PolyFit</text><text x="734" y="145">FO-CMP</text><text x="734" y="166">HO-CMP</text></g>
<text x="420" y="394" text-anchor="middle" font-size="17">Boxplot at last time point</text>
<rect x="166" y="400" width="508" height="275" fill="#fff" stroke="#e3e3e3"/>
<path d="M268 400V675M369 400V675M471 400V675M572 400V675" stroke="#e8e8e8"/>
<g text-anchor="end"><text x="160" y="428">Ground Truth</text><text x="160" y="474">DM</text><text x="160" y="520">HT</text><text x="160" y="565">PolyFit</text><text x="160" y="611">FO-CMP</text><text x="160" y="656">HO-CMP</text></g>
<text transform="translate(53,537) rotate(-90)" text-anchor="middle">Estimation Method</text>
<g text-anchor="middle"><text x="166" y="693">0</text><text x="268" y="693">2</text><text x="369" y="693">4</text><text x="471" y="693">6</text><text x="572" y="693">8</text><text x="674" y="693">10</text><text x="420" y="712">TTE</text></g>
<g stroke="#555" stroke-width="1.5"><path d="M400,404V441M222,469H233M222,461V477M233,461V477M222,515H233M222,507V523M233,507V523M608,560H674M522,606H547M567,606H598M522,598V614M598,598V614M313,651H430M511,651H593M313,643V659M593,643V659"/></g>
<rect x="226" y="451" width="4" height="36" fill="#8c5a50" stroke="#444"/><rect x="226" y="497" width="4" height="36" fill="#2f5f35" stroke="#444"/>
<rect x="166" y="542" width="442" height="37" fill="#c03d3e" stroke="#444"/><path d="M257,542V579" stroke="#444" stroke-width="1.5"/>
<rect x="547" y="588" width="20" height="37" fill="#9370bf" stroke="#444"/><path d="M557,588V625" stroke="#444"/>
<rect x="430" y="633" width="81" height="37" fill="#8c5a50" stroke="#444"/><path d="M476,633V670" stroke="#444" stroke-width="1.5"/>
</svg>

</body></html>
